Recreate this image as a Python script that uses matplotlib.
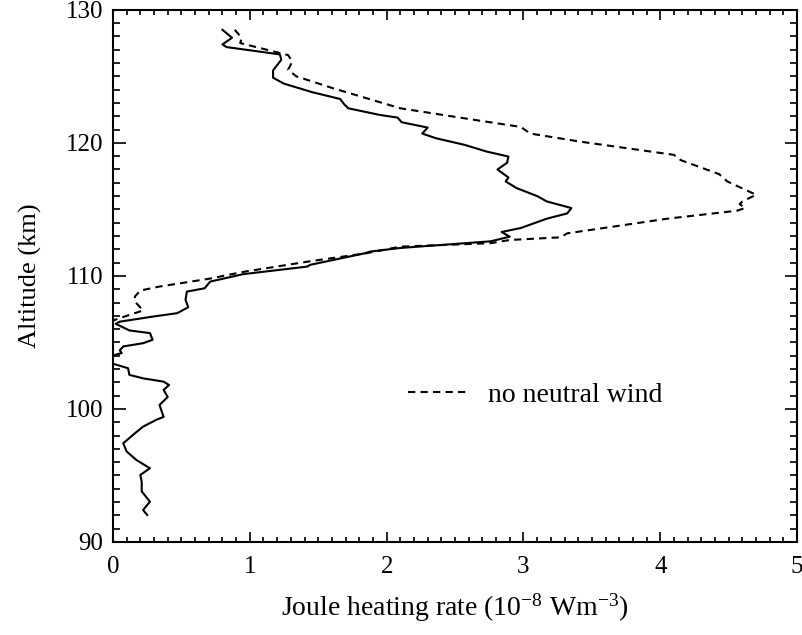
import matplotlib
matplotlib.use("Agg")
import matplotlib.pyplot as plt
from matplotlib.ticker import MultipleLocator

plt.rcParams['font.family'] = ['Liberation Serif', 'DejaVu Serif']
plt.rcParams['mathtext.fontset'] = 'custom'
plt.rcParams['mathtext.rm'] = 'Liberation Serif'
plt.rcParams['mathtext.it'] = 'Liberation Serif:italic'

# with neutral wind (solid)
wind_rate = [0.80, 0.87, 0.80, 0.83, 1.22, 1.23, 1.17, 1.17, 1.25, 1.46, 1.66, 1.69,
             1.72, 1.95, 2.08, 2.11, 2.30, 2.26, 2.36, 2.57, 2.73, 2.89, 2.88, 2.81,
             2.89, 2.87, 2.95, 3.10, 3.17, 3.35, 3.32, 3.17, 2.98, 2.84, 2.90, 2.76,
             2.10, 1.88, 1.84, 1.44, 1.42, 0.95, 0.71, 0.67, 0.54, 0.53, 0.55, 0.47,
             0.29, 0.05, 0.02, 0.12, 0.27, 0.29, 0.22, 0.075, 0.05, 0.064, 0.015, -0.03,
             0.0, 0.11, 0.12, 0.22, 0.37, 0.41, 0.37, 0.40, 0.34, 0.37, 0.32, 0.22,
             0.16, 0.075, 0.10, 0.17, 0.27, 0.20, 0.21, 0.21, 0.27, 0.22, 0.25]
wind_alt = [128.5, 127.9, 127.4, 127.2, 126.65, 126.25, 125.45, 124.9, 124.45, 123.8, 123.3, 122.9,
            122.6, 122.1, 121.9, 121.55, 121.15, 120.7, 120.35, 119.85, 119.35, 118.97, 118.5, 118.0,
            117.4, 117.1, 116.6, 116.0, 115.6, 115.1, 114.7, 114.3, 113.6, 113.3, 112.95, 112.6,
            112.1, 111.83, 111.7, 110.83, 110.7, 110.13, 109.57, 109.07, 108.82, 108.2, 107.65, 107.2,
            106.94, 106.56, 106.4, 105.9, 105.7, 105.2, 104.94, 104.7, 104.4, 104.2, 104.06, 103.8,
            103.4, 103.06, 102.56, 102.3, 102.05, 101.8, 101.43, 100.9, 100.3, 99.4, 99.2, 98.67,
            98.17, 97.42, 96.8, 96.17, 95.54, 95.04, 94.5, 93.8, 93.03, 92.4, 92.03]

# no neutral wind (dashed)
nowind_rate = [0.89, 0.94, 0.93, 1.28, 1.31, 1.28, 1.34, 1.61, 2.10, 2.66, 2.98, 3.05,
               3.41, 4.10, 4.15, 4.43, 4.49, 4.70, 4.60, 4.58, 4.62, 4.56, 4.05, 3.32,
               3.27, 2.90, 2.76, 2.10, 1.85, 1.44, 0.95, 0.71, 0.34, 0.20, 0.16, 0.16,
               0.22, 0.12, 0.015, -0.05]
nowind_alt = [128.5, 127.9, 127.5, 126.6, 126.1, 125.5, 125.0, 124.1, 122.6, 121.7, 121.2, 120.7,
              120.1, 119.1, 118.7, 117.65, 117.1, 116.1, 115.6, 115.4, 115.1, 114.9, 114.3, 113.2,
              112.9, 112.7, 112.46, 112.2, 111.7, 111.1, 110.3, 109.8, 109.2, 108.9, 108.45, 108.07,
              107.4, 107.07, 106.7, 106.4]

fig = plt.figure(figsize=(8.03, 6.35), dpi=100)
ax = fig.add_axes([0.1407, 0.1465, 0.852, 0.838])

ax.plot(wind_rate, wind_alt, color='black', lw=1.5)
ax.plot(nowind_rate, nowind_alt, color='black', lw=1.5, dashes=(3.5, 2.5),
        label='no neutral wind')

ax.set_xlim(0, 5)
ax.set_ylim(90, 130)
ax.xaxis.set_major_locator(MultipleLocator(1))
ax.xaxis.set_minor_locator(MultipleLocator(0.1))
ax.yaxis.set_major_locator(MultipleLocator(10))
ax.yaxis.set_minor_locator(MultipleLocator(1))

ax.tick_params(which='both', direction='in', top=True, right=True, width=1.2,
               labelsize=18, colors='black')
ax.tick_params(axis='x', which='major', length=7, pad=10)
ax.tick_params(axis='x', which='minor', length=3.5)
ax.tick_params(axis='y', which='major', length=9, pad=7)
ax.tick_params(axis='y', which='minor', length=4.8)
for sp in ax.spines.values():
    sp.set_linewidth(1.5)

ax.set_xlabel('Joule heating rate (10$^{\\mathrm{-8}}$ Wm$^{\\mathrm{-3}}$)', fontsize=20,
              labelpad=10)
ax.set_ylabel('Altitude (km)', fontsize=19, labelpad=17)

ax.legend(loc='center left', bbox_to_anchor=(0.431, 0.276), frameon=False,
          fontsize=20, handlelength=2.1, handletextpad=0.8, borderpad=0,
          borderaxespad=0)

fig.savefig('out.png', dpi=100)
